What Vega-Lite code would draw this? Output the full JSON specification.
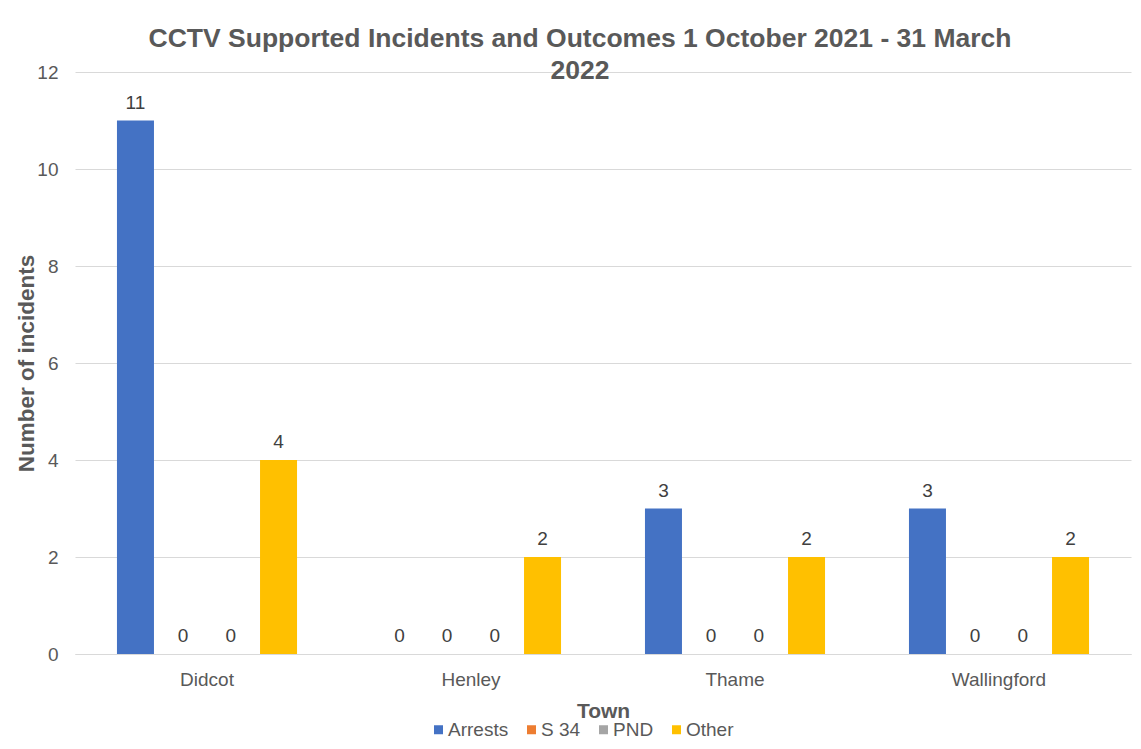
{
  "$schema": "https://vega.github.io/schema/vega-lite/v6.json",
  "width": 1056,
  "height": 582,
  "autosize": "none",
  "padding": {"left": 75, "top": 72, "right": 10, "bottom": 95},
  "background": "white",
  "title": {
    "text": ["CCTV Supported Incidents and Outcomes 1 October 2021 - 31 March", "2022"],
    "font": "Liberation Sans",
    "fontSize": 26.5,
    "fontWeight": "bold",
    "color": "#595959",
    "anchor": "middle",
    "frame": "group",
    "dx": -23,
    "offset": -48,
    "lineHeight": 32,
    "baseline": "bottom"
  },
  "data": {
    "values": [
      {"town": "Didcot", "outcome": "Arrests", "count": 11},
      {"town": "Didcot", "outcome": "S 34", "count": 0},
      {"town": "Didcot", "outcome": "PND", "count": 0},
      {"town": "Didcot", "outcome": "Other", "count": 4},
      {"town": "Henley", "outcome": "Arrests", "count": 0},
      {"town": "Henley", "outcome": "S 34", "count": 0},
      {"town": "Henley", "outcome": "PND", "count": 0},
      {"town": "Henley", "outcome": "Other", "count": 2},
      {"town": "Thame", "outcome": "Arrests", "count": 3},
      {"town": "Thame", "outcome": "S 34", "count": 0},
      {"town": "Thame", "outcome": "PND", "count": 0},
      {"town": "Thame", "outcome": "Other", "count": 2},
      {"town": "Wallingford", "outcome": "Arrests", "count": 3},
      {"town": "Wallingford", "outcome": "S 34", "count": 0},
      {"town": "Wallingford", "outcome": "PND", "count": 0},
      {"town": "Wallingford", "outcome": "Other", "count": 2}
    ]
  },
  "encoding": {
    "x": {
      "field": "town",
      "type": "nominal",
      "sort": ["Didcot", "Henley", "Thame", "Wallingford"],
      "scale": {"paddingInner": 0, "paddingOuter": 0},
      "axis": {
        "title": "Town",
        "labelAngle": 0,
        "domain": true,
        "domainColor": "#D9D9D9",
        "domainWidth": 1,
        "ticks": false,
        "tickSize": 0,
        "grid": false,
        "labelFont": "Liberation Sans",
        "labelFontSize": 19,
        "labelColor": "#595959",
        "labelPadding": 16,
        "titleFont": "Liberation Sans",
        "titleFontSize": 21,
        "titleFontWeight": "bold",
        "titleColor": "#595959",
        "titleBaseline": "alphabetic",
        "titleY": 63
      }
    },
    "xOffset": {
      "field": "outcome",
      "type": "nominal",
      "sort": ["Arrests", "S 34", "PND", "Other"],
      "scale": {"paddingInner": 0.224, "paddingOuter": 0.88}
    },
    "y": {
      "field": "count",
      "type": "quantitative",
      "scale": {"domain": [0, 12], "nice": false},
      "axis": {
        "title": "Number of incidents",
        "values": [0, 2, 4, 6, 8, 10, 12],
        "domain": false,
        "ticks": false,
        "tickSize": 0,
        "grid": true,
        "gridColor": "#D9D9D9",
        "gridWidth": 1,
        "labelFont": "Liberation Sans",
        "labelFontSize": 19,
        "labelColor": "#595959",
        "labelPadding": 17,
        "titleFont": "Liberation Sans",
        "titleFontSize": 22.5,
        "titleFontWeight": "bold",
        "titleColor": "#595959",
        "titleAngle": -90,
        "titleAlign": "center",
        "titleBaseline": "alphabetic",
        "titleX": -42,
        "titleY": 291
      }
    }
  },
  "layer": [
    {
      "mark": {"type": "bar"},
      "encoding": {
        "color": {
          "field": "outcome",
          "type": "nominal",
          "sort": ["Arrests", "S 34", "PND", "Other"],
          "scale": {
            "domain": ["Arrests", "S 34", "PND", "Other"],
            "range": ["#4472C4", "#ED7D31", "#A5A5A5", "#FFC000"]
          },
          "legend": {
            "title": null,
            "orient": "none",
            "direction": "horizontal",
            "legendX": 354,
            "legendY": 648,
            "padding": 0,
            "symbolType": "square",
            "symbolSize": 81,
            "symbolStrokeWidth": 0,
            "labelFont": "Liberation Sans",
            "labelFontSize": 19,
            "labelColor": "#595959",
            "labelOffset": 0,
            "columnPadding": 13
          }
        }
      }
    },
    {
      "mark": {
        "type": "text",
        "baseline": "alphabetic",
        "dy": -12,
        "font": "Liberation Sans",
        "fontSize": 19,
        "color": "#404040"
      },
      "encoding": {
        "text": {"field": "count", "type": "quantitative"}
      }
    }
  ],
  "config": {"view": {"stroke": null}}
}
